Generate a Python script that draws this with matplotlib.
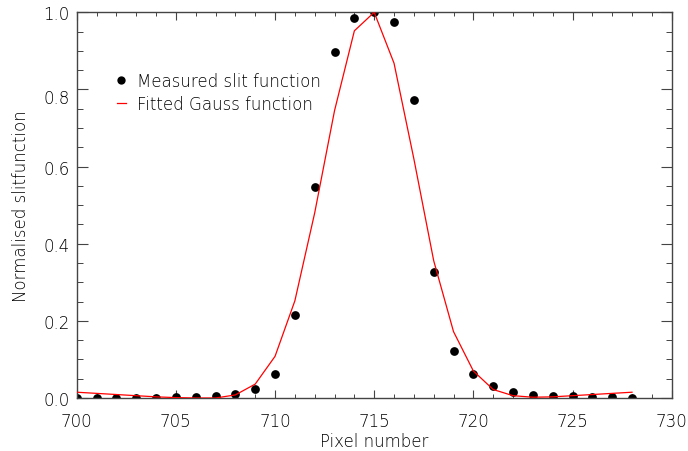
import numpy as np
import matplotlib
matplotlib.use("Agg")
import matplotlib.pyplot as plt
from matplotlib.ticker import MultipleLocator

# measured slit function (pixel, normalised value)
pix = np.arange(700, 729)
measured = [0.000, 0.000, 0.000, 0.000, 0.001, 0.002, 0.002, 0.006, 0.010,
            0.023, 0.062, 0.215, 0.548, 0.896, 0.985, 1.000, 0.976, 0.773,
            0.327, 0.122, 0.061, 0.030, 0.015, 0.008, 0.006, 0.004, 0.002,
            0.002, 0.001]

# fitted gauss function at the same pixels
fitted = [0.015, 0.012, 0.009, 0.006, 0.003, 0.001, 0.000, 0.000, 0.008,
          0.036, 0.108, 0.252, 0.480, 0.745, 0.952, 1.000, 0.868, 0.620,
          0.356, 0.172, 0.070, 0.022, 0.006, 0.002, 0.003, 0.006, 0.009,
          0.012, 0.015]

txt = "black"
plt.rcParams['font.family'] = ['DejaVu Sans']
plt.rcParams['font.weight'] = 'light'
plt.rcParams['axes.labelweight'] = 'light'

fig = plt.figure(figsize=(6.88, 4.52), dpi=100)
ax = fig.add_axes([76.7/688, 1 - 399/452, 595/688, 385.7/452])

ax.plot(pix, measured, "o", color="black", ms=6.3, mec="none",
        label="Measured slit function", zorder=2)
ax.plot(pix, fitted, "-", color="red", lw=0.9,
        label="Fitted Gauss function", zorder=3)

ax.set_xlim(700, 730)
ax.set_ylim(0, 1.0)
ax.xaxis.set_major_locator(MultipleLocator(5))
ax.xaxis.set_minor_locator(MultipleLocator(1))
ax.yaxis.set_major_locator(MultipleLocator(0.2))
ax.yaxis.set_minor_locator(MultipleLocator(0.05))
ax.yaxis.set_major_formatter(matplotlib.ticker.FormatStrFormatter("%.1f"))

ax.tick_params(axis="x", which="both", direction="in", top=True, bottom=True,
               labelsize=12, labelcolor=txt, color="#444444", pad=10)
ax.tick_params(axis="x", which="major", length=5.6, width=0.8)
ax.tick_params(axis="x", which="minor", length=2.8, width=0.7)
ax.tick_params(axis="y", which="both", direction="in", left=True, right=True,
               labelsize=12, labelcolor=txt, color="#444444", pad=5)
ax.tick_params(axis="y", which="major", length=7.7, width=0.8)
ax.tick_params(axis="y", which="minor", length=4.0, width=0.7)
for s in ax.spines.values():
    s.set_color("#444444")
    s.set_linewidth(1.0)

# keep the end labels inside the box, as in the original
yt = ax.yaxis.get_major_ticks()
yt[0].label1.set_va("bottom")
yt[5].label1.set_va("top")

ax.set_xlabel("Pixel number", fontsize=12, color=txt)
ax.xaxis.set_label_coords(0.5, -0.088)
ax.set_ylabel("Normalised slitfunction", fontsize=12, color=txt)
ax.yaxis.set_label_coords(-0.078, 0.5)

leg = ax.legend(loc="upper left", bbox_to_anchor=(0.067, 0.845), frameon=False,
                fontsize=12, borderpad=0, borderaxespad=0, handlelength=0.56,
                handletextpad=0.64, labelspacing=0.28, markerscale=0.95)
for t in leg.get_texts():
    t.set_color(txt)

fig.savefig("out.png", dpi=100)
